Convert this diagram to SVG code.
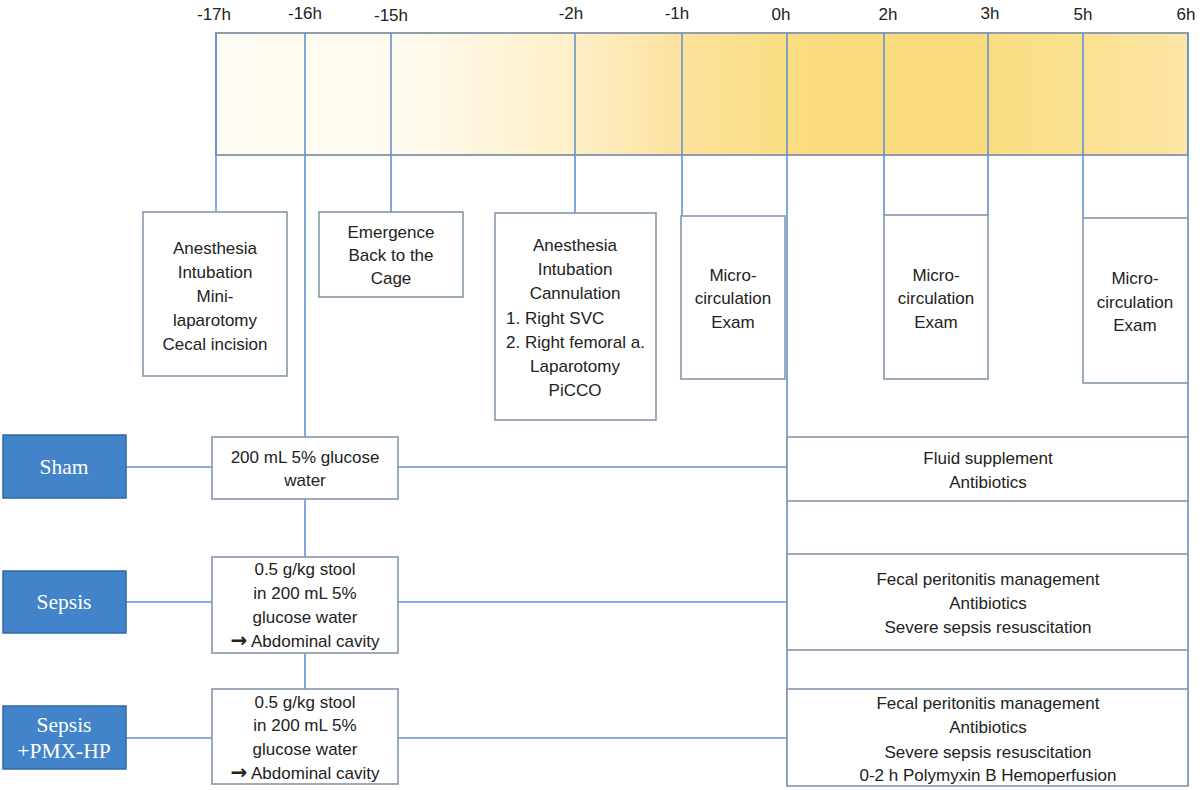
<svg xmlns="http://www.w3.org/2000/svg" width="1200" height="790" viewBox="0 0 1200 790">
<defs>
<linearGradient id="band" x1="216" y1="0" x2="1188" y2="0" gradientUnits="userSpaceOnUse">
<stop offset="0" stop-color="#fffcf3"/>
<stop offset="0.2" stop-color="#fffaee"/>
<stop offset="0.37" stop-color="#fdefc6"/>
<stop offset="0.48" stop-color="#fce29c"/>
<stop offset="0.6" stop-color="#fbdc80"/>
<stop offset="0.76" stop-color="#fadb7d"/>
<stop offset="0.88" stop-color="#fbe08e"/>
<stop offset="1" stop-color="#fde6a5"/>
</linearGradient>
</defs>
<style>
.tl{font-family:"Liberation Sans",Arial,sans-serif;font-size:17px;fill:#222;text-anchor:middle}
.t{font-family:"Liberation Sans",Arial,sans-serif;font-size:17px;fill:#222;text-anchor:middle}
.tlft{font-family:"Liberation Sans",Arial,sans-serif;font-size:17px;fill:#222}
.arr{font-family:"DejaVu Sans",sans-serif;font-weight:bold;font-size:20px}
.g{font-family:"Liberation Serif","Times New Roman",serif;font-size:21.5px;fill:#ffffff;text-anchor:middle}
.box{fill:#ffffff;stroke:#8596ab;stroke-width:1.6}
.grp{fill:#4283c9;stroke:#2f6aa6;stroke-width:1.5}
.ln{stroke:#5f93d2;stroke-width:1.6;fill:none}
.band{fill:url(#band);stroke:#8f9dac;stroke-width:2}
</style>
<rect width="1200" height="790" fill="#ffffff"/>

<g id="timeline">
<rect class="band" x="216" y="33" width="972" height="122"/>
<text class="tl" x="214" y="20">-17h</text>
<text class="tl" x="305" y="19">-16h</text>
<text class="tl" x="391" y="21">-15h</text>
<text class="tl" x="571" y="19">-2h</text>
<text class="tl" x="677" y="19">-1h</text>
<text class="tl" x="781" y="20">0h</text>
<text class="tl" x="888" y="20">2h</text>
<text class="tl" x="990" y="19">3h</text>
<text class="tl" x="1083" y="20">5h</text>
<text class="tl" x="1186" y="20">6h</text>
</g>

<g id="connectors">
<line class="ln" x1="216" y1="33" x2="216" y2="212"/>
<line class="ln" x1="305" y1="33" x2="305" y2="437"/>
<line class="ln" x1="391" y1="33" x2="391" y2="212"/>
<line class="ln" x1="575" y1="33" x2="575" y2="213"/>
<line class="ln" x1="682" y1="33" x2="682" y2="216"/>
<line class="ln" x1="787" y1="33" x2="787" y2="786"/>
<line class="ln" x1="884" y1="33" x2="884" y2="215"/>
<line class="ln" x1="988" y1="33" x2="988" y2="215"/>
<line class="ln" x1="1083" y1="33" x2="1083" y2="218"/>
<line class="ln" x1="1188" y1="33" x2="1188" y2="786"/>
<line class="ln" x1="305" y1="499" x2="305" y2="557"/>
<line class="ln" x1="305" y1="653" x2="305" y2="689"/>
<line class="ln" x1="126" y1="467" x2="212" y2="467"/>
<line class="ln" x1="398" y1="467" x2="787" y2="467"/>
<line class="ln" x1="126" y1="602" x2="212" y2="602"/>
<line class="ln" x1="398" y1="602" x2="787" y2="602"/>
<line class="ln" x1="126" y1="738" x2="212" y2="738"/>
<line class="ln" x1="398" y1="738" x2="787" y2="738"/>
</g>

<g id="box-surgery1">
<rect class="box" x="143" y="212" width="144" height="164"/>
<text class="t" x="215" y="254">Anesthesia</text>
<text class="t" x="215" y="278">Intubation</text>
<text class="t" x="215" y="302">Mini-</text>
<text class="t" x="215" y="326">laparotomy</text>
<text class="t" x="215" y="350">Cecal incision</text>
</g>

<g id="box-emergence">
<rect class="box" x="319" y="212" width="144" height="85"/>
<text class="t" x="391" y="238">Emergence</text>
<text class="t" x="391" y="261">Back to the</text>
<text class="t" x="391" y="284">Cage</text>
</g>

<g id="box-surgery2">
<rect class="box" x="495" y="213" width="161" height="207"/>
<text class="t" x="575" y="251">Anesthesia</text>
<text class="t" x="575" y="275">Intubation</text>
<text class="t" x="575" y="299">Cannulation</text>
<text class="tlft" x="506" y="324">1. Right SVC</text>
<text class="tlft" x="506" y="348">2. Right femoral a.</text>
<text class="t" x="575" y="372">Laparotomy</text>
<text class="t" x="575" y="396">PiCCO</text>
</g>

<g id="box-micro1">
<rect class="box" x="681" y="216" width="104" height="163"/>
<text class="t" x="733" y="281">Micro-</text>
<text class="t" x="733" y="304">circulation</text>
<text class="t" x="733" y="328">Exam</text>
</g>

<g id="box-micro2">
<rect class="box" x="884" y="215" width="104" height="164"/>
<text class="t" x="936" y="281">Micro-</text>
<text class="t" x="936" y="304">circulation</text>
<text class="t" x="936" y="328">Exam</text>
</g>

<g id="box-micro3">
<rect class="box" x="1083" y="218" width="105" height="165"/>
<text class="t" x="1135" y="284">Micro-</text>
<text class="t" x="1135" y="308">circulation</text>
<text class="t" x="1135" y="331">Exam</text>
</g>

<g id="group-sham">
<rect class="grp" x="3" y="435" width="123" height="63"/>
<text class="g" x="64" y="474">Sham</text>
</g>

<g id="group-sepsis">
<rect class="grp" x="3" y="571" width="123" height="62"/>
<text class="g" x="64" y="609">Sepsis</text>
</g>

<g id="group-pmx">
<rect class="grp" x="3" y="706" width="123" height="63"/>
<text class="g" x="64" y="732">Sepsis</text>
<text class="g" x="64" y="758">+PMX-HP</text>
</g>

<g id="box-sham-inj">
<rect class="box" x="212" y="437" width="186" height="62"/>
<text class="t" x="305" y="463">200 mL 5% glucose</text>
<text class="t" x="305" y="486">water</text>
</g>

<g id="box-sepsis-inj">
<rect class="box" x="212" y="557" width="186" height="96"/>
<text class="t" x="305" y="575">0.5 g/kg stool</text>
<text class="t" x="305" y="599">in 200 mL 5%</text>
<text class="t" x="305" y="623">glucose water</text>
<text class="t" x="305" y="647"><tspan class="arr">→</tspan> Abdominal cavity</text>
</g>

<g id="box-pmx-inj">
<rect class="box" x="212" y="689" width="186" height="95"/>
<text class="t" x="305" y="708">0.5 g/kg stool</text>
<text class="t" x="305" y="731">in 200 mL 5%</text>
<text class="t" x="305" y="755">glucose water</text>
<text class="t" x="305" y="779"><tspan class="arr">→</tspan> Abdominal cavity</text>
</g>

<g id="box-sham-tx">
<rect class="box" x="787" y="437" width="401" height="64"/>
<text class="t" x="988" y="464">Fluid supplement</text>
<text class="t" x="988" y="488">Antibiotics</text>
</g>

<g id="box-sepsis-tx">
<rect class="box" x="787" y="554" width="401" height="96"/>
<text class="t" x="988" y="585">Fecal peritonitis management</text>
<text class="t" x="988" y="609">Antibiotics</text>
<text class="t" x="988" y="633">Severe sepsis resuscitation</text>
</g>

<g id="box-pmx-tx">
<rect class="box" x="787" y="689" width="401" height="97"/>
<text class="t" x="988" y="709">Fecal peritonitis management</text>
<text class="t" x="988" y="733">Antibiotics</text>
<text class="t" x="988" y="758">Severe sepsis resuscitation</text>
<text class="t" x="988" y="781">0-2 h Polymyxin B Hemoperfusion</text>
</g>
</svg>
